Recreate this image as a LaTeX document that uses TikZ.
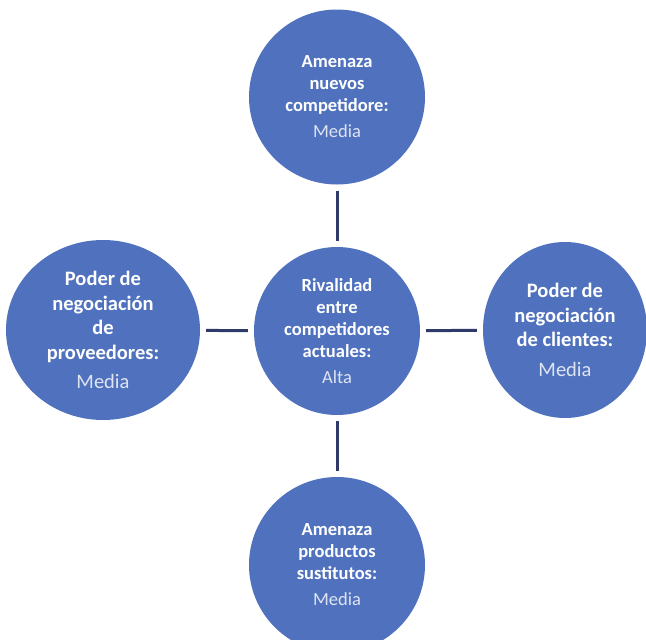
\documentclass[tikz,border=0pt]{standalone}
\usepackage{fontspec}
\setmainfont{Carlito}
\usetikzlibrary{shapes.geometric, positioning}
\definecolor{fuerza}{RGB}{80,114,190}
\definecolor{enlace}{RGB}{48,58,105}
\definecolor{nivel}{RGB}{222,228,242}
\tikzstyle{fuerzabox} = [ellipse, fill=fuerza, text=white, align=center, inner sep=-15pt, font=\fontsize{18.5}{22}\selectfont\bfseries]
\tikzstyle{ladobox} = [fuerzabox, font=\fontsize{20.5}{24.5}\selectfont\bfseries]
\tikzstyle{link} = [-, draw=enlace, line width=3pt, shorten <=6pt, shorten >=6pt]
\newcommand{\nivel}[1]{{\color{nivel}\mdseries #1}}

\begin{document}
\begin{tikzpicture}[x=1pt, y=-1pt]
  \useasboundingbox (0,0) rectangle (646,640);

  % fuerza central
  \node[fuerzabox, minimum width=166pt, minimum height=168pt] (rival) at (337,331)
    {Rivalidad\\entre\\competidores\\actuales:\\[4pt]\nivel{Alta}};

  % fuerzas alrededor
  \node[fuerzabox, minimum width=176pt, minimum height=175pt] (nuevos) at (337,97)
    {Amenaza\\nuevos\\competidore:\\[4pt]\nivel{Media}};
  \node[ladobox, minimum width=194pt, minimum height=180pt] (proveedores) at (103,330)
    {Poder de\\negociación\\de\\proveedores:\\[5pt]\nivel{Media}};
  \node[ladobox, minimum width=164pt, minimum height=176pt] (clientes) at (565,330)
    {Poder de\\negociación\\de clientes:\\[5pt]\nivel{Media}};
  \node[fuerzabox, minimum width=176pt, minimum height=176pt] (sustitutos) at (337,565)
    {Amenaza\\productos\\sustitutos:\\[4pt]\nivel{Media}};

  % conexiones
  \draw[link] (nuevos) -- (rival);
  \draw[link] (proveedores) -- (rival);
  \draw[link] (rival) -- (clientes);
  \draw[link] (rival) -- (sustitutos);
\end{tikzpicture}
\end{document}
